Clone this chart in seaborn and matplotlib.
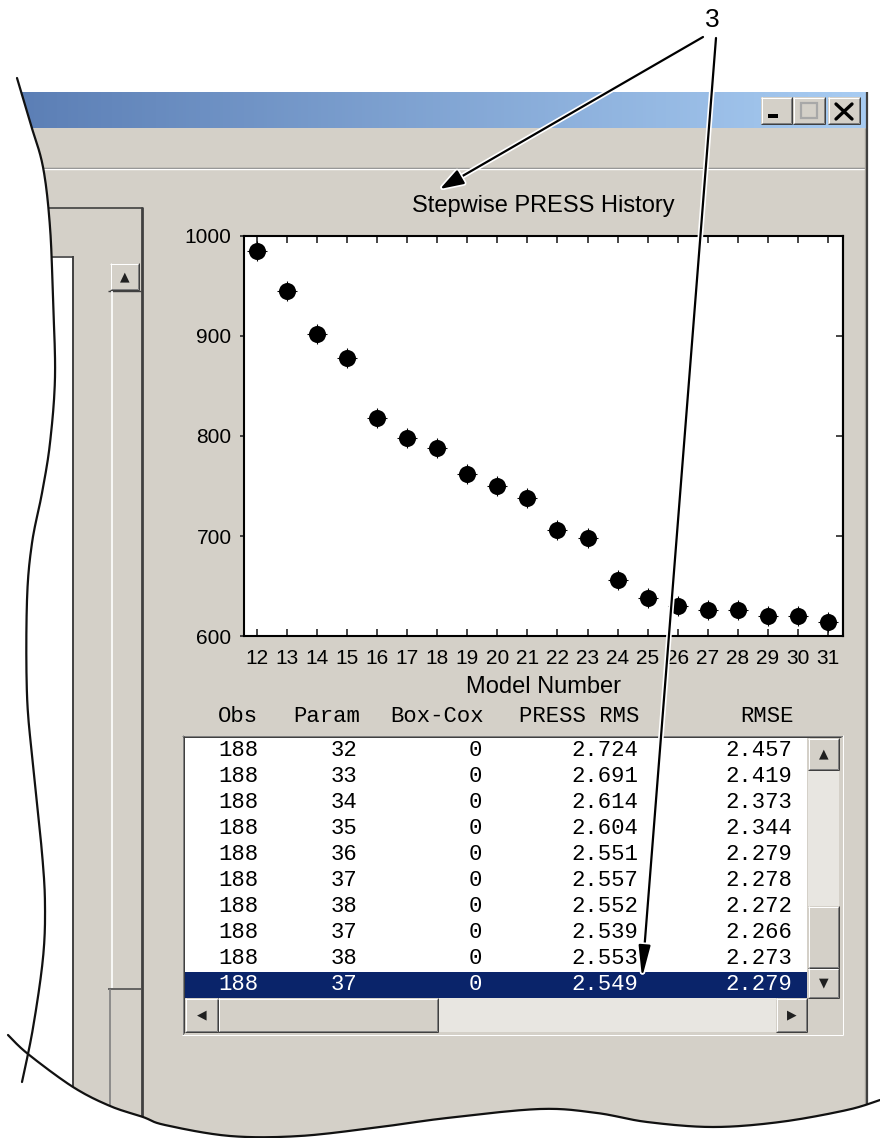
import numpy as np
import pandas as pd
import matplotlib
matplotlib.use("Agg")
import matplotlib.pyplot as plt
import matplotlib.patheffects as pe
from matplotlib.patches import Rectangle, Polygon
from matplotlib.colors import LinearSegmentedColormap
import seaborn as sns

# --- chart data ---
model_number = [12, 13, 14, 15, 16, 17, 18, 19, 20, 21,
                22, 23, 24, 25, 26, 27, 28, 29, 30, 31]
press = [985, 945, 902, 878, 818, 798, 788, 762, 750, 738,
         706, 698, 656, 638, 630, 626, 626, 620, 620, 614]
y_ticks = [600, 700, 800, 900, 1000]

# --- table below the chart ---
col_headers = ["Obs", "Param", "Box-Cox", "PRESS RMS", "RMSE"]
obs = [188, 188, 188, 188, 188, 188, 188, 188, 188, 188]
param = [32, 33, 34, 35, 36, 37, 38, 37, 38, 37]
box_cox = [0, 0, 0, 0, 0, 0, 0, 0, 0, 0]
press_rms = [2.724, 2.691, 2.614, 2.604, 2.551, 2.557, 2.552, 2.539, 2.553, 2.549]
rmse = [2.457, 2.419, 2.373, 2.344, 2.279, 2.278, 2.272, 2.266, 2.273, 2.279]
selected_row = 9

sns.set_style("white")
plt.rcParams["font.family"] = ["Liberation Sans", "DejaVu Sans"]

W, H = 880, 1138
GRAY = "#D4D0C8"
DARK = "#404040"
SHADOW = "#808080"
PX = 0.72  # one pixel in points


def frac(x0, y0, x1, y1):
    return [x0 / W, 1 - y1 / H, (x1 - x0) / W, (y1 - y0) / H]


def smooth(pts, n=16):
    # catmull-rom through hand-picked outline points
    p = np.array(pts, float)
    p = np.vstack([p[0], p, p[-1]])
    out = []
    t = np.linspace(0, 1, n, endpoint=False)[:, None]
    for i in range(1, len(p) - 2):
        p0, p1, p2, p3 = p[i - 1], p[i], p[i + 1], p[i + 2]
        out.append(0.5 * (2 * p1 + (-p0 + p2) * t + (2 * p0 - 5 * p1 + 4 * p2 - p3) * t ** 2
                          + (-p0 + 3 * p1 - 3 * p2 + p3) * t ** 3))
    out.append(p[-2][None, :])
    return np.vstack(out)


def hline(a, x0, x1, y, c, lw=PX):
    a.plot([x0, x1], [y, y], color=c, lw=lw, solid_capstyle="butt")


def vline(a, x, y0, y1, c, lw=PX):
    a.plot([x, x], [y0, y1], color=c, lw=lw, solid_capstyle="butt")


def button(a, x0, y0, x1, y1):
    a.add_patch(Rectangle((x0, y0), x1 - x0, y1 - y0, fc=GRAY, ec="none"))
    hline(a, x0, x1, y0 + 0.5, "white")
    vline(a, x0 + 0.5, y0, y1, "white")
    hline(a, x0, x1, y1 - 0.5, DARK)
    vline(a, x1 - 0.5, y0, y1, DARK)
    hline(a, x0 + 1, x1 - 1, y1 - 1.5, SHADOW)
    vline(a, x1 - 1.5, y0 + 1, y1 - 1, SHADOW)


fig = plt.figure(figsize=(W / 100, H / 100), dpi=100)
fig.patch.set_facecolor("white")

# --- window chrome ---
bg = fig.add_axes([0, 0, 1, 1])
bg.add_patch(Rectangle((0, 92), 866, H - 92, fc=GRAY, ec="none"))
tb_cmap = LinearSegmentedColormap.from_list("tb", ["#5A7DB4", "#A8CCF2"])
bg.imshow(np.linspace(0, 1, 256).reshape(1, -1), extent=(0, 866, 128, 92),
          cmap=tb_cmap, aspect="auto", zorder=1)
hline(bg, 0, 866, 167.5, SHADOW, 1.0)
hline(bg, 0, 866, 169.2, "white", 1.0)
vline(bg, 864.5, 128, H, "#B0ACA4", 1.0)
vline(bg, 866.5, 92, H, DARK, 1.6)

button(bg, 761, 97, 792, 124)
button(bg, 793, 97, 825, 124)
button(bg, 828, 97, 860, 124)
bg.add_patch(Rectangle((768, 114), 10, 3.5, fc="black", ec="none", zorder=3))
bg.add_patch(Rectangle((801, 103), 16, 15, fc="none", ec="#A8A8A8", lw=1.6, zorder=3))
bg.plot([836, 852], [104, 119], color="black", lw=2.4, zorder=3)
bg.plot([836, 852], [119, 104], color="black", lw=2.4, zorder=3)

# left panel with its scrollbar
hline(bg, 0, 143, 207.5, DARK, 1.2)
vline(bg, 142, 207, H, DARK, 2.0)
bg.add_patch(Rectangle((0, 256), 73, H - 256, fc="white", ec="none"))
hline(bg, 0, 73, 256.5, DARK, 1.2)
vline(bg, 73, 256, H, DARK, 1.4)
button(bg, 110, 263, 139, 290)
bg.text(124.5, 277, "\u25b2", fontsize=9, ha="center", va="center",
        color="#202020", family="DejaVu Sans")
hline(bg, 108, 141, 290.5, DARK, 1.0)
vline(bg, 111.5, 291, 988, "white", 1.2)
hline(bg, 108, 141, 989, "#505050", 1.2)
vline(bg, 109.5, 989, H, SHADOW, 1.2)

# table box
bg.add_patch(Rectangle((182, 735), 661, 300, fc=GRAY, ec="none"))
hline(bg, 182, 843, 735.5, SHADOW)
vline(bg, 182.5, 735, 1035, SHADOW)
hline(bg, 182, 843, 1034.5, "white")
vline(bg, 842.5, 735, 1035, "white")
hline(bg, 183, 841, 736.8, DARK)
vline(bg, 183.8, 736, 1033, DARK)
bg.add_patch(Rectangle((185, 738), 622, 260, fc="white", ec="none"))
row_y = [750 + 26.1 * i for i in range(len(obs))]
bg.add_patch(Rectangle((185, row_y[selected_row] - 13), 622, 26, fc="#0A246A", ec="none"))

bg.add_patch(Rectangle((808, 738), 31, 260, fc="#E8E6E1", ec="none"))
button(bg, 808, 738, 839, 770)
button(bg, 808, 906, 839, 968)
button(bg, 808, 968, 839, 998)
bg.add_patch(Rectangle((185, 998), 622, 34, fc="#E8E6E1", ec="none"))
button(bg, 185, 998, 218, 1032)
button(bg, 218, 998, 438, 1032)
button(bg, 776, 998, 807, 1032)
bg.add_patch(Rectangle((807, 998), 33, 34, fc=GRAY, ec="none"))
for gx, gy, g in [(823.5, 754, "\u25b2"), (823.5, 983, "\u25bc"),
                  (201.5, 1015, "\u25c0"), (791.5, 1015, "\u25b6")]:
    bg.text(gx, gy, g, fontsize=9, ha="center", va="center", color="#202020",
            family="DejaVu Sans")

head_right = [258, 360, 484, 639, 794]
cell_right = [258, 357, 482, 638, 792]
mono = dict(family="Liberation Mono", fontsize=16, va="center", ha="right")
for name, xr in zip(col_headers, head_right):
    bg.text(xr, 716, name, color="black", **mono)
for i, y in enumerate(row_y):
    c = "white" if i == selected_row else "black"
    vals = [str(obs[i]), str(param[i]), str(box_cox[i]),
            f"{press_rms[i]:.3f}", f"{rmse[i]:.3f}"]
    for v, xr in zip(vals, cell_right):
        bg.text(xr, y, v, color=c, **mono)

bg.set_xlim(0, W)
bg.set_ylim(H, 0)
bg.axis("off")

# --- the chart itself ---
ax = fig.add_axes(frac(244, 236, 843, 636))
df = pd.DataFrame({"Model Number": model_number, "PRESS": press})
sns.scatterplot(data=df, x="Model Number", y="PRESS", ax=ax, color="black",
                s=150, linewidth=0, legend=False, zorder=3)
sns.scatterplot(data=df, x="Model Number", y="PRESS", ax=ax, color="black",
                marker="+", s=190, linewidth=0.8, legend=False, zorder=3)
ax.set_facecolor("white")
ax.set_xlim(11.57, 31.5)
ax.set_ylim(600, 1000)
ax.set_xticks(model_number)
ax.set_yticks(y_ticks)
ax.set_ylabel("")
ax.set_xlabel("Model Number", fontsize=17, color="black", labelpad=6)
ax.set_title("Stepwise PRESS History", fontsize=17, color="black", pad=17)
for s in ax.spines.values():
    s.set_visible(True)
    s.set_color("black")
    s.set_linewidth(1.5)
ax.tick_params(axis="x", direction="in", length=5, width=1.2, top=True, bottom=True,
               labelsize=15, labelcolor="black", pad=9)
ax.tick_params(axis="y", direction="out", length=3, width=1.2, left=True, right=False,
               labelsize=15, labelcolor="black", pad=6)
sec = ax.secondary_yaxis("right")
sec.set_yticks(y_ticks)
sec.tick_params(direction="in", length=5, width=1.2, labelright=False)
sec.spines["right"].set_linewidth(1.5)

# --- overlay: torn edges and callouts ---
ov = fig.add_axes([0, 0, 1, 1])
ov.set_zorder(10)
ov.patch.set_alpha(0)
left_edge = smooth([(17, 78), (30, 122), (43, 167), (50, 227), (53, 300), (55, 377),
                    (50, 443), (42, 493), (32, 543), (27, 600), (27, 695), (33, 765),
                    (42, 853), (45, 905), (43, 958), (33, 1028), (22, 1082)])
bottom_edge = smooth([(8, 1035), (28, 1054), (73, 1087), (110, 1106), (143, 1117),
                      (165, 1125), (230, 1136), (300, 1136), (380, 1127), (447, 1118),
                      (540, 1109), (597, 1113), (647, 1122), (713, 1127), (780, 1122),
                      (847, 1110), (880, 1100)])
ov.add_patch(Polygon(np.vstack([[(0, 0), (17, 0)], left_edge, [(0, H)]]),
                     closed=True, fc="white", ec="none"))
ov.add_patch(Polygon(np.vstack([[(0, 1030)], bottom_edge, [(W, H), (0, H)]]),
                     closed=True, fc="white", ec="none"))
ov.plot(left_edge[:, 0], left_edge[:, 1], color="#111111", lw=1.6)
ov.plot(bottom_edge[:, 0], bottom_edge[:, 1], color="#111111", lw=1.6)

ov.text(712, 20, "3", fontsize=19, ha="center", va="center", color="black",
        family=["Liberation Sans Narrow", "Liberation Sans"])
halo = [pe.Stroke(linewidth=4, foreground="white"), pe.Normal()]
a1 = ov.annotate("", xy=(440, 189), xytext=(703, 37),
                 arrowprops=dict(arrowstyle="-|>,head_length=0.9,head_width=0.3",
                                 color="black", lw=1.6, shrinkA=0, shrinkB=0,
                                 mutation_scale=16))
a1.arrow_patch.set_path_effects(halo)
a2 = ov.annotate("", xy=(642, 978), xytext=(716, 38),
                 arrowprops=dict(arrowstyle="-|>,head_length=1.2,head_width=0.22",
                                 color="black", lw=1.6, shrinkA=0, shrinkB=0,
                                 mutation_scale=16))
a2.arrow_patch.set_path_effects(halo)
ov.set_xlim(0, W)
ov.set_ylim(H, 0)
ov.axis("off")

fig.savefig("out.png", dpi=100)
